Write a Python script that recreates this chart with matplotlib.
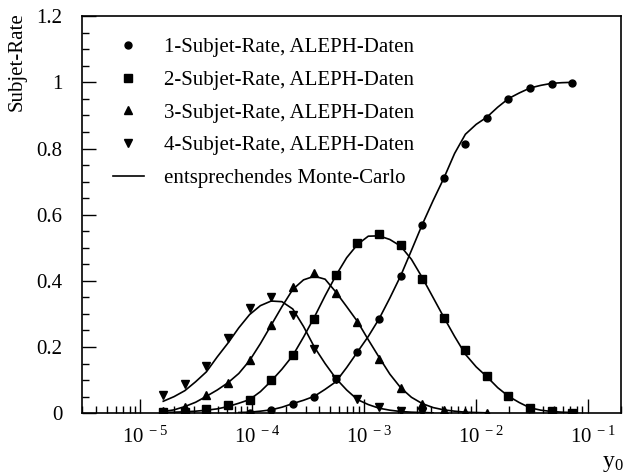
import matplotlib
matplotlib.use("Agg")
import matplotlib.pyplot as plt
import matplotlib.transforms as mtransforms
from matplotlib.ticker import LogLocator, FixedLocator, NullFormatter, MultipleLocator

plt.rcParams["font.family"] = ["Liberation Serif", "DejaVu Serif"]
plt.rcParams["mathtext.fontset"] = "custom"
plt.rcParams["mathtext.rm"] = "Liberation Serif"

# y0 cut values of the ALEPH data points
y0 = [1.60e-5, 2.50e-5, 3.90e-5, 6.08e-5, 9.48e-5, 1.48e-4, 2.31e-4, 3.60e-4,
      5.61e-4, 8.75e-4, 1.36e-3, 2.13e-3, 3.32e-3, 5.18e-3, 8.07e-3, 1.26e-2,
      1.96e-2, 3.06e-2, 4.78e-2, 7.20e-2]

# ALEPH data
rate1 = [None, None, None, None, 0.002, 0.011, 0.029, 0.050, 0.102, 0.185,
         0.285, 0.415, 0.570, 0.710, 0.815, 0.891, 0.949, 0.983, 0.995, 0.997]
rate2 = [0.003, 0.005, 0.012, 0.025, 0.041, 0.099, 0.175, 0.286, 0.418, 0.515,
         0.542, 0.508, 0.405, 0.287, 0.192, 0.113, 0.051, 0.017, 0.006, 0.002]
rate3 = [0.006, 0.019, 0.055, 0.091, 0.161, 0.268, 0.380, 0.424, 0.364, 0.275,
         0.164, 0.077, 0.029, 0.010, 0.004, 0.002, None, None, None, None]
rate4 = [0.054, 0.087, 0.143, 0.226, 0.318, 0.352, 0.298, 0.195, 0.102, 0.043,
         0.018, 0.008, 0.003, None, None, None, None, None, None, None]

# Monte-Carlo curves, read on a finer y0 grid
y0_mc = [1.603e-5, 2.002e-5, 2.500e-5, 3.122e-5, 3.899e-5, 4.869e-5, 6.081e-5,
         7.594e-5, 9.484e-5, 1.184e-4, 1.479e-4, 1.847e-4, 2.307e-4, 2.881e-4,
         3.597e-4, 4.492e-4, 5.610e-4, 7.006e-4, 8.750e-4, 1.093e-3, 1.365e-3,
         1.704e-3, 2.128e-3, 2.658e-3, 3.319e-3, 4.145e-3, 5.176e-3, 6.464e-3,
         8.072e-3, 1.008e-2, 1.259e-2, 1.572e-2, 1.963e-2, 2.452e-2, 3.062e-2,
         3.824e-2, 4.775e-2, 5.900e-2, 7.200e-2]
mc1 = [None, None, None, None, None, None, None, 0.002, 0.003, 0.006,
       0.010, 0.018, 0.029, 0.039, 0.051, 0.072, 0.095, 0.138, 0.185, 0.232,
       0.285, 0.348, 0.415, 0.492, 0.570, 0.642, 0.710, 0.785, 0.843, 0.873,
       0.895, 0.925, 0.951, 0.968, 0.983, 0.991, 0.997, 0.999, 1.000]
mc2 = [0.002, 0.003, 0.004, 0.006, 0.009, 0.013, 0.020, 0.030, 0.041, 0.065,
       0.097, 0.133, 0.174, 0.230, 0.290, 0.355, 0.416, 0.470, 0.510, 0.535,
       0.536, 0.525, 0.505, 0.465, 0.410, 0.350, 0.290, 0.232, 0.178, 0.140,
       0.110, 0.077, 0.051, 0.032, 0.016, 0.009, 0.005, 0.003, 0.002]
mc3 = [0.005, 0.010, 0.020, 0.033, 0.051, 0.070, 0.092, 0.120, 0.159, 0.210,
       0.266, 0.322, 0.374, 0.403, 0.414, 0.405, 0.366, 0.322, 0.277, 0.222,
       0.169, 0.118, 0.077, 0.048, 0.029, 0.017, 0.010, 0.006, 0.003, 0.002,
       0.001, None, None, None, None, None, None, None, None]
mc4 = [0.036, 0.050, 0.068, 0.095, 0.125, 0.170, 0.212, 0.258, 0.298, 0.325,
       0.339, 0.337, 0.315, 0.262, 0.200, 0.150, 0.105, 0.070, 0.041, 0.026,
       0.015, 0.009, 0.005, 0.003, 0.002, 0.001, None, None, None, None,
       None, None, None, None, None, None, None, None, None]

labels = ["1-Subjet-Rate, ALEPH-Daten", "2-Subjet-Rate, ALEPH-Daten",
          "3-Subjet-Rate, ALEPH-Daten", "4-Subjet-Rate, ALEPH-Daten"]
mc_label = "entsprechendes Monte-Carlo"
decades = [1e-5, 1e-4, 1e-3, 1e-2, 1e-1]
decade_labels = [r"$\mathregular{10^{\,-5}}$", r"$\mathregular{10^{\,-4}}$",
                 r"$\mathregular{10^{\,-3}}$", r"$\mathregular{10^{\,-2}}$",
                 r"$\mathregular{10^{\,-1}}$"]


def clean(xs, ys):
    pts = [(x, y) for x, y in zip(xs, ys) if y is not None]
    return [p[0] for p in pts], [p[1] for p in pts]


fig = plt.figure(figsize=(6.25, 4.76), dpi=100)
ax = fig.add_axes([0.131, 0.132, 0.863, 0.834])

markers = ["o", "s", "^", "v"]
handles = []
for data, mc, m, lab in zip([rate1, rate2, rate3, rate4], [mc1, mc2, mc3, mc4],
                            markers, labels):
    xm, ym = clean(y0_mc, mc)
    ax.plot(xm, ym, color="black", lw=1.2)
    xd, yd = clean(y0, data)
    h, = ax.plot(xd, yd, linestyle="none", marker=m, color="black",
                 ms=5.5 if m != "o" else 5, label=lab)
    handles.append(h)
line_h, = ax.plot([], [], color="black", lw=1.2, label=mc_label)
handles.append(line_h)

ax.set_xscale("log")
ax.set_xlim(3.0e-6, 0.2)
ax.set_ylim(0, 1.2)

ax.xaxis.set_major_locator(FixedLocator(decades))
ax.set_xticklabels(decade_labels)
ax.xaxis.set_minor_locator(LogLocator(base=10, subs=range(2, 10), numticks=20))
ax.xaxis.set_minor_formatter(NullFormatter())
ax.set_yticks([0, 0.2, 0.4, 0.6, 0.8, 1.0, 1.2])
ax.set_yticklabels(["0", "0.2", "0.4", "0.6", "0.8", "1", "1.2"])
ax.yaxis.set_minor_locator(MultipleLocator(0.05))

ax.tick_params(which="both", direction="in", top=False, right=False,
               labelsize=15, width=1.0)
ax.tick_params(axis="x", which="major", length=10, pad=10)
ax.tick_params(axis="x", which="minor", length=5)
ax.tick_params(axis="y", which="major", length=10, pad=14)
ax.tick_params(axis="y", which="minor", length=5)
for sp in ax.spines.values():
    sp.set_linewidth(1.2)

shift = mtransforms.ScaledTranslation(5 / 100, 0, fig.dpi_scale_trans)
for lbl in ax.get_xticklabels():
    lbl.set_transform(lbl.get_transform() + shift)

fig.text(0.012, 0.975, "Subjet-Rate", rotation=90, ha="left", va="top",
         fontsize=15)
fig.text(0.998, 0.005, r"$\mathregular{y_0}$", ha="right", va="bottom",
         fontsize=17)

ax.legend(handles=handles, loc="upper left", frameon=False, fontsize=15,
          handlelength=1.5, handletextpad=0.95, labelspacing=0.63,
          borderaxespad=0.0, bbox_to_anchor=(0.042, 0.967))

fig.savefig("out.png", dpi=100)
